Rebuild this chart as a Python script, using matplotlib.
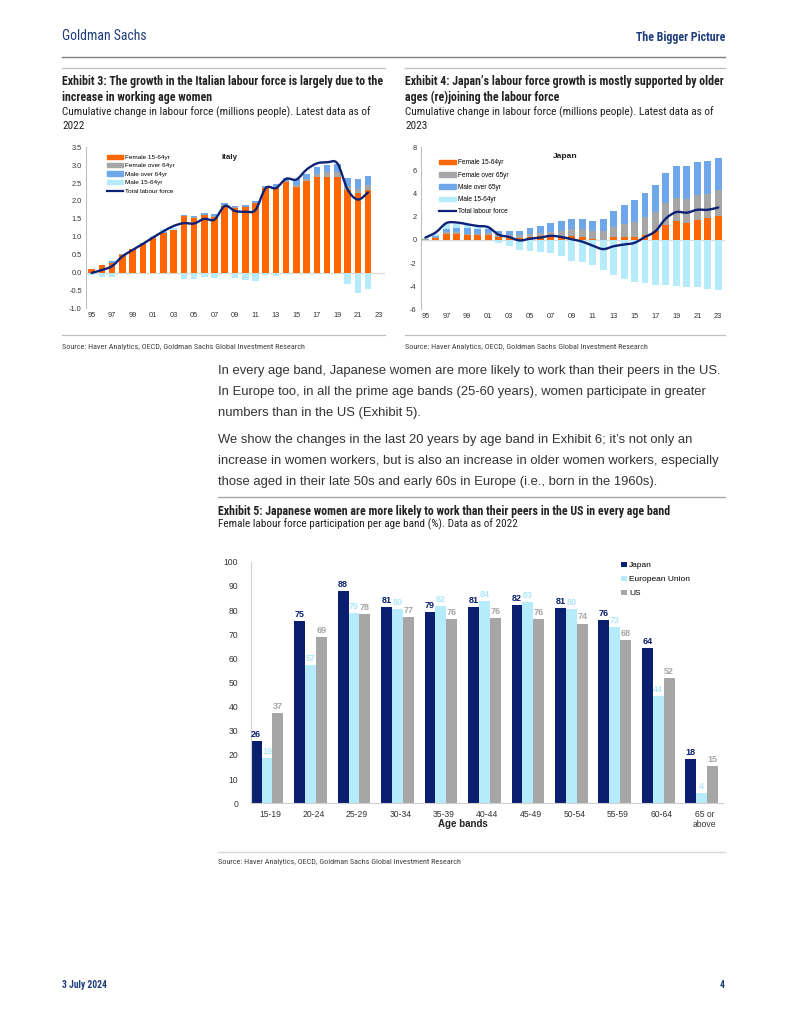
import numpy as np
import matplotlib
matplotlib.use("Agg")
import matplotlib.pyplot as plt
from matplotlib import font_manager as fm
from matplotlib.lines import Line2D
from matplotlib.patches import Patch, PathPatch
from matplotlib.path import Path

# ---------------- data ----------------
it_years = list(range(1995, 2023))
it_f1564 = [0.09, 0.20, 0.27, 0.50, 0.65, 0.80, 0.97, 1.10, 1.18, 1.57, 1.53, 1.60, 1.56, 1.86,
            1.80, 1.83, 1.94, 2.36, 2.36, 2.52, 2.40, 2.56, 2.67, 2.67, 2.67, 2.31, 2.22, 2.31]
it_f65 = [0.00, 0.01, 0.01, 0.01, 0.01, 0.01, 0.01, 0.01, 0.01, 0.01, 0.01, 0.01, 0.02, 0.02,
          0.02, 0.01, 0.01, 0.02, 0.03, 0.03, 0.04, 0.05, 0.08, 0.13, 0.13, 0.12, 0.12, 0.13]
it_m65 = [0.00, 0.01, 0.05, 0.01, 0.01, 0.01, 0.01, 0.01, 0.01, 0.02, 0.03, 0.04, 0.06, 0.05,
          0.04, 0.04, 0.05, 0.04, 0.09, 0.08, 0.16, 0.15, 0.19, 0.21, 0.24, 0.21, 0.27, 0.26]
it_m1564 = [-0.07, -0.12, -0.12, -0.03, 0.00, 0.01, 0.02, 0.10, 0.04, -0.18, -0.17, -0.12, -0.15, -0.05,
            -0.14, -0.20, -0.24, -0.06, -0.10, -0.04, 0.00, 0.00, 0.00, 0.00, 0.00, -0.33, -0.58, -0.47]
it_total = [-0.01, 0.07, 0.18, 0.45, 0.63, 0.80, 0.98, 1.15, 1.30, 1.38, 1.37, 1.50, 1.48, 1.86,
            1.72, 1.70, 1.75, 2.36, 2.36, 2.62, 2.60, 2.88, 3.05, 3.08, 3.05, 2.32, 2.04, 2.24]

jp_years = list(range(1995, 2024))
jp_f1564 = [0.02, 0.20, 0.55, 0.55, 0.40, 0.40, 0.45, 0.25, 0.20, 0.20, 0.25, 0.30, 0.30, 0.25, 0.30,
            0.25, 0.10, 0.02, 0.25, 0.25, 0.25, 0.45, 0.75, 1.30, 1.60, 1.50, 1.70, 1.85, 2.10]
jp_f65 = [0.02, 0.05, 0.10, 0.15, 0.15, 0.10, 0.15, 0.25, 0.20, 0.20, 0.25, 0.30, 0.40, 0.50, 0.60,
          0.65, 0.65, 0.73, 0.90, 1.15, 1.30, 1.50, 1.70, 1.85, 2.00, 2.05, 2.15, 2.15, 2.20]
jp_m65 = [0.06, 0.10, 0.27, 0.35, 0.50, 0.45, 0.35, 0.25, 0.35, 0.35, 0.55, 0.60, 0.80, 0.85, 0.90,
          0.90, 0.90, 1.05, 1.35, 1.60, 1.90, 2.10, 2.25, 2.60, 2.75, 2.85, 2.85, 2.80, 2.75]
jp_m1564 = [0.10, 0.15, 0.45, 0.35, 0.25, 0.20, 0.10, -0.30, -0.55, -0.85, -1.00, -1.05, -1.15, -1.40, -1.80,
            -1.95, -2.20, -2.60, -3.00, -3.35, -3.65, -3.75, -3.90, -3.90, -3.95, -4.05, -4.05, -4.25, -4.30]
jp_total = [0.20, 0.65, 1.45, 1.50, 1.35, 1.20, 1.10, 0.45, 0.25, -0.05, 0.10, 0.20, 0.35, 0.25, 0.05,
            -0.15, -0.50, -0.80, -0.55, -0.40, -0.25, 0.25, 0.75, 1.85, 2.40, 2.35, 2.60, 2.60, 2.80]

age_bands = ["15-19", "20-24", "25-29", "30-34", "35-39", "40-44", "45-49", "50-54", "55-59", "60-64", "65 or\nabove"]
part_japan = [25.7, 75.4, 87.9, 81.1, 79.2, 81.4, 82.1, 81.0, 75.9, 64.1, 18.5]
part_eu = [18.7, 57.1, 78.6, 80.3, 81.7, 83.6, 83.2, 80.3, 73.0, 44.4, 4.4]
part_us = [37.2, 68.8, 78.3, 77.1, 76.1, 76.5, 76.1, 74.4, 67.7, 51.9, 15.4]

year_ticks = list(range(1995, 2024, 2))
year_labels = ["%02d" % (y % 100) for y in year_ticks]

# ---------------- style ----------------
W, H = 791, 1024
ORANGE = "#FF6600"
GREY = "#A6A6A6"
BLUE = "#6EA8EA"
LBLUE = "#B5EBFA"
NAVY = "#0B2276"
NAVY5 = "#0A1F70"
GSBLUE = "#1F3D7A"
TXT = "#222222"

_names = {f.name for f in fm.fontManager.ttflist}
_narrow = next((n for n in ["Liberation Sans Narrow", "Arial Narrow", "Roboto Condensed",
                            "Open Sans Condensed"] if n in _names), "Liberation Sans")
NARROW = [_narrow, "DejaVu Sans"]
SANS = ["Liberation Sans", "DejaVu Sans"]
plt.rcParams["font.family"] = SANS
plt.rcParams["axes.unicode_minus"] = False

fig = plt.figure(figsize=(W / 100, H / 100), dpi=100)
fig.patch.set_facecolor("white")
R = fig.canvas.get_renderer()


def fx(x):
    return x / W


def fy(y):
    return 1 - y / H


def hline(x0, x1, y, color="#BFBFBF", lw=0.9):
    fig.add_artist(Line2D([fx(x0), fx(x1)], [fy(y), fy(y)], transform=fig.transFigure,
                          color=color, lw=lw))


def ftext(x, y, s, **kw):
    kw.setdefault("va", "center")
    return fig.text(fx(x), fy(y), s, **kw)


def fit_size(s, target_w, base=8.0, **kw):
    t = fig.text(0, 0, s, fontsize=base, **kw)
    w = t.get_window_extent(renderer=R).width
    t.remove()
    return base * target_w / w


def smooth_path(x, y):
    pts = np.column_stack([np.asarray(x, float), np.asarray(y, float)])
    n = len(pts)
    verts = [pts[0]]
    codes = [Path.MOVETO]
    for i in range(n - 1):
        p0 = pts[i - 1] if i > 0 else pts[i]
        p1 = pts[i]
        p2 = pts[i + 1]
        p3 = pts[i + 2] if i + 2 < n else pts[i + 1]
        verts += [p1 + (p2 - p0) / 6.0, p2 - (p3 - p1) / 6.0, p2]
        codes += [Path.CURVE4] * 3
    return Path(verts, codes)


def stacked(ax, years, series, colors, width):
    pos = np.zeros(len(years))
    neg = np.zeros(len(years))
    for vals, c in zip(series, colors):
        v = np.asarray(vals, float)
        bottom = np.where(v >= 0, pos, neg)
        ax.bar(years, v, width=width, bottom=bottom, color=c, edgecolor="none", zorder=2)
        pos = pos + np.where(v >= 0, v, 0)
        neg = neg + np.where(v < 0, v, 0)


def style_small(ax):
    for s in ["top", "right", "bottom"]:
        ax.spines[s].set_visible(False)
    ax.spines["left"].set_color("#BFBFBF")
    ax.spines["left"].set_linewidth(0.8)
    ax.axhline(0, color="#D9D9D9", lw=0.9, zorder=1)
    ax.set_xticks(year_ticks)
    ax.set_xticklabels(year_labels)
    ax.tick_params(axis="x", length=0, pad=3, labelsize=5.3, colors="#333333")
    ax.tick_params(axis="y", length=0, pad=3, labelsize=5.3, colors="#333333")


# font sizes fitted to the widths in the reference
S_GS = fit_size("Goldman Sachs", 85, family=NARROW)
S_BP = fit_size("The Bigger Picture", 89, family=NARROW, fontweight="bold")
S_TITLE = fit_size("Exhibit 3: The growth in the Italian labour force is largely due to the", 320,
                   family=NARROW, fontweight="bold")
S_SUB = fit_size("Cumulative change in labour force (millions people). Latest data as of", 308,
                 family=NARROW)
SRC = "Source: Haver Analytics, OECD, Goldman Sachs Global Investment Research"
S_SRC = fit_size(SRC, 245, family=NARROW)
S_BODY = fit_size("In every age band, Japanese women are more likely to work than their peers in the US.",
                  505, family=SANS)
S_FOOT = fit_size("3 July 2024", 45, family=NARROW, fontweight="bold")

# ---------------- header ----------------
ftext(62, 36, "Goldman Sachs", family=NARROW, fontsize=S_GS, color=GSBLUE, ha="left")
ftext(725, 37, "The Bigger Picture", family=NARROW, fontsize=S_BP, color=GSBLUE,
      ha="right", fontweight="bold")
hline(62, 725, 57, color="#7F7F7F", lw=1.0)

# ---------------- Exhibit 3 / 4 titles ----------------
hline(62, 385, 68)
hline(405, 725, 68)
ftext(62, 82, "Exhibit 3: The growth in the Italian labour force is largely due to the",
      family=NARROW, fontsize=S_TITLE, fontweight="bold", color=TXT, ha="left")
ftext(62, 97, "increase in working age women", family=NARROW, fontsize=S_TITLE, fontweight="bold",
      color=TXT, ha="left")
ftext(62, 112, "Cumulative change in labour force (millions people). Latest data as of",
      family=NARROW, fontsize=S_SUB, color=TXT, ha="left")
ftext(62, 126, "2022", family=NARROW, fontsize=S_SUB, color=TXT, ha="left")

ftext(405, 82, "Exhibit 4: Japan\u2019s labour force growth is mostly supported by older",
      family=NARROW, fontsize=S_TITLE, fontweight="bold", color=TXT, ha="left")
ftext(405, 97, "ages (re)joining the labour force", family=NARROW, fontsize=S_TITLE,
      fontweight="bold", color=TXT, ha="left")
ftext(405, 112, "Cumulative change in labour force (millions people). Latest data as of",
      family=NARROW, fontsize=S_SUB, color=TXT, ha="left")
ftext(405, 126, "2023", family=NARROW, fontsize=S_SUB, color=TXT, ha="left")

# ---------------- Italy chart ----------------
ax1 = fig.add_axes([fx(86), fy(308.3), fx(385) - fx(86), (308.3 - 147.3) / H])
stacked(ax1, it_years, [it_f1564, it_f65, it_m65, it_m1564], [ORANGE, GREY, BLUE, LBLUE], 0.64)
ax1.add_patch(PathPatch(smooth_path(it_years, it_total), fill=False, edgecolor=NAVY, lw=1.7,
                        capstyle="round", joinstyle="round", zorder=5))
ax1.set_xlim(1994.45, 2023.65)
ax1.set_ylim(-1.0, 3.5)
ax1.set_yticks(np.arange(-1.0, 3.51, 0.5))
ax1.set_yticklabels(["%.1f" % v for v in np.arange(-1.0, 3.51, 0.5)])
style_small(ax1)
ax1.text(0.48, 0.935, "Italy", transform=ax1.transAxes, fontsize=5.8, fontweight="bold",
         color=TXT, ha="center", va="center")
h_it = [Patch(color=ORANGE), Patch(color=GREY), Patch(color=BLUE), Patch(color=LBLUE),
        Line2D([], [], color=NAVY, lw=1.6)]
ax1.legend(h_it, ["Female 15-64yr", "Female over 64yr", "Male over 64yr", "Male 15-64yr",
                  "Total labour force"],
           loc="upper left", bbox_to_anchor=(0.07, 0.955), frameon=False, fontsize=4.6,
           handlelength=2.5, handleheight=0.6, handletextpad=0.3, labelspacing=0.5,
           borderaxespad=0, borderpad=0)

# ---------------- Japan chart ----------------
ax2 = fig.add_axes([fx(420.7), fy(309.3), fx(725) - fx(420.7), (309.3 - 147.3) / H])
stacked(ax2, jp_years, [jp_f1564, jp_f65, jp_m65, jp_m1564], [ORANGE, GREY, BLUE, LBLUE], 0.66)
ax2.add_patch(PathPatch(smooth_path(jp_years, jp_total), fill=False, edgecolor=NAVY, lw=1.7,
                        capstyle="round", joinstyle="round", zorder=5))
ax2.set_xlim(1994.55, 2023.65)
ax2.set_ylim(-6, 8)
ax2.set_yticks(np.arange(-6, 9, 2))
style_small(ax2)
ax2.text(0.475, 0.945, "Japan", transform=ax2.transAxes, fontsize=6.1, fontweight="bold",
         color=TXT, ha="center", va="center")
h_jp = [Patch(color=ORANGE), Patch(color=GREY), Patch(color=BLUE), Patch(color=LBLUE),
        Line2D([], [], color=NAVY, lw=1.6)]
ax2.legend(h_jp, ["Female 15-64yr", "Female over 65yr", "Male over 65yr", "Male 15-64yr",
                  "Total labour force"],
           loc="upper left", bbox_to_anchor=(0.06, 0.925), frameon=False, fontsize=4.7,
           handlelength=2.6, handleheight=0.7, handletextpad=0.3, labelspacing=0.8,
           borderaxespad=0, borderpad=0)

# ---------------- sources ----------------
hline(62, 385, 335)
hline(405, 725, 335)
ftext(62, 347, SRC, family=NARROW, fontsize=S_SRC, color="#404040", ha="left")
ftext(405, 347, SRC, family=NARROW, fontsize=S_SRC, color="#404040", ha="left")

# ---------------- body text ----------------
body = [
    (371, "In every age band, Japanese women are more likely to work than their peers in the US."),
    (392, "In Europe too, in all the prime age bands (25-60 years), women participate in greater"),
    (413, "numbers than in the US (Exhibit 5)."),
    (440, "We show the changes in the last 20 years by age band in Exhibit 6; it\u2019s not only an"),
    (461, "increase in women workers, but is also an increase in older women workers, especially"),
    (482, "those aged in their late 50s and early 60s in Europe (i.e., born in the 1960s)."),
]
for y, s in body:
    ftext(218, y, s, family=SANS, fontsize=S_BODY, color="#333333", ha="left")

# ---------------- Exhibit 5 ----------------
hline(218, 725, 497, color="#A6A6A6", lw=1.0)
ftext(218, 511, "Exhibit 5: Japanese women are more likely to work than their peers in the US in every age band",
      family=NARROW, fontsize=S_TITLE, fontweight="bold", color=TXT, ha="left")
ftext(218, 524, "Female labour force participation per age band (%). Data as of 2022",
      family=NARROW, fontsize=S_SUB, color=TXT, ha="left")

ax3 = fig.add_axes([fx(250.7), fy(803.3), fx(723) - fx(250.7), (803.3 - 561.7) / H])
xc = np.arange(len(age_bands))
bw = 0.25
b_jp = ax3.bar(xc - bw, part_japan, bw, color=NAVY5, label="Japan", zorder=2)
b_eu = ax3.bar(xc, part_eu, bw, color=LBLUE, label="European Union", zorder=2)
b_us = ax3.bar(xc + bw, part_us, bw, color=GREY, label="US", zorder=2)
ax3.bar_label(b_jp, fmt="%.0f", padding=1.5, fontsize=6.5, fontweight="bold", color=NAVY5)
ax3.bar_label(b_eu, fmt="%.0f", padding=1.5, fontsize=6.5, fontweight="bold", color="#B0E8F8")
ax3.bar_label(b_us, fmt="%.0f", padding=1.5, fontsize=6.5, fontweight="bold", color="#A6A6A6")
ax3.set_xlim(-0.375, 10.49)
ax3.set_ylim(0, 100)
ax3.set_yticks(np.arange(0, 101, 10))
ax3.set_xticks(xc + 0.07)
ax3.set_xticklabels(age_bands)
ax3.tick_params(axis="x", length=0, pad=4.5, labelsize=6.2, colors="#333333")
ax3.tick_params(axis="y", length=0, pad=9, labelsize=6.2, colors="#333333")
for s in ["top", "right"]:
    ax3.spines[s].set_visible(False)
for s in ["left", "bottom"]:
    ax3.spines[s].set_color("#D0D0D0")
    ax3.spines[s].set_linewidth(0.8)
ax3.set_xlabel("Age bands", fontsize=7, fontweight="bold", color=TXT)
ax3.xaxis.set_label_coords(0.45, -0.086)
ax3.xaxis.label.set_va("center")
ax3.legend(loc="upper left", bbox_to_anchor=(0.785, 1.0), frameon=False, fontsize=6,
           handlelength=0.65, handleheight=0.65, handletextpad=0.3, labelspacing=0.75,
           borderaxespad=0, borderpad=0)

hline(218, 725, 852, color="#D9D9D9", lw=1.0)
ftext(218, 862, SRC, family=NARROW, fontsize=S_SRC, color="#404040", ha="left")

# ---------------- footer ----------------
ftext(62, 985, "3 July 2024", family=NARROW, fontsize=S_FOOT, fontweight="bold", color=GSBLUE, ha="left")
ftext(725, 985, "4", family=NARROW, fontsize=S_FOOT, fontweight="bold", color=GSBLUE, ha="right")

fig.savefig("out.png", dpi=100, facecolor="white")
